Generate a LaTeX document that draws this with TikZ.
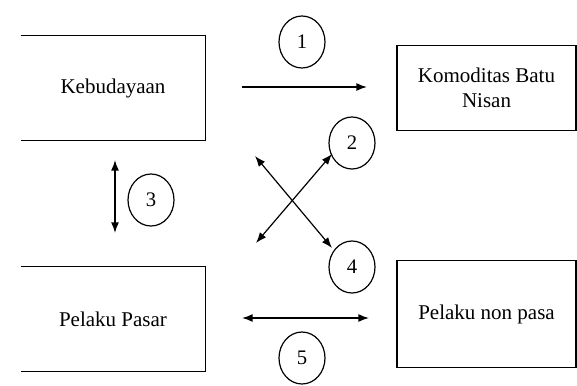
\documentclass[tikz,border=0pt]{standalone}
\usepackage{fontspec}
\setmainfont{Liberation Serif}
\usetikzlibrary{arrows.meta,shapes.geometric}

\tikzset{every picture/.style={line width=0.75pt}}
\tikzset{
	boxtext/.style={font=\fontsize{15.75}{19}\selectfont, align=center},
	boxline/.style={line width=1.3pt},
	numcirc/.style={draw, ellipse, line width=0.9pt, minimum width=34.5pt, minimum height=39pt, inner sep=0pt, font=\fontsize{15.5}{18}\selectfont},
	flow/.style={line width=1.1pt, -{Latex[length=8pt,width=6pt]}},
	twoway/.style={line width=1.1pt, {Latex[length=8pt,width=6pt]}-{Latex[length=8pt,width=6pt]}}}

\begin{document}
\begin{tikzpicture}[x=0.75pt,y=0.75pt,yscale=-1,xscale=1]
	\useasboundingbox (0,0) rectangle (577,385);

	%Shape: Rectangle (open on the left) [Kebudayaan]
	\node[boxtext, minimum width=138pt, minimum height=78pt] (keb) at (113,88) {Kebudayaan};
	\draw[boxline] (keb.north west) -- (keb.north east) -- (keb.south east) -- (keb.south west);
	%Shape: Rectangle [Komoditas Batu Nisan]
	\node[boxtext, minimum width=134pt, minimum height=63pt] (kom) at (486.5,88) {Komoditas Batu\\Nisan};
	\draw[boxline] (kom.north west) rectangle (kom.south east);
	%Shape: Rectangle (open on the left) [Pelaku Pasar]
	\node[boxtext, minimum width=138pt, minimum height=78pt] (pas) at (113,319) {Pelaku Pasar};
	\draw[boxline] (pas.north west) -- (pas.north east) -- (pas.south east) -- (pas.south west);
	%Shape: Rectangle [Pelaku non pasa]
	\node[boxtext, minimum width=134pt, minimum height=79.5pt] (non) at (486.5,314) {Pelaku non pasa};
	\draw[boxline] (non.north west) rectangle (non.south east);

	% Circle Nodes
	\node[numcirc] (c1) at (302,42) {1};
	\node[numcirc] (c2) at (352,143) {2};
	\node[numcirc] (c3) at (151,200) {3};
	\node[numcirc] (c4) at (352,267) {4};
	\node[numcirc] (c5) at (302,358) {5};

	% Arrow ends
	\coordinate (a1s) at (242,87);
	\coordinate (a1e) at (367,87);
	\coordinate (a3s) at (115,160);
	\coordinate (a3e) at (115,233);
	\coordinate (a5s) at (242,318);
	\coordinate (a5e) at (369,318);
	\coordinate (xas) at (255,156);
	\coordinate (xae) at (332,248);
	\coordinate (xbs) at (256,243);
	\coordinate (xbe) at (332,154);

	%Straight Lines
	\draw[flow] (a1s) -- (a1e);
	\draw[twoway] (a3s) -- (a3e);
	\draw[twoway] (a5s) -- (a5e);
	\draw[twoway, line width=0.9pt] (xas) -- (xae);
	\draw[twoway, line width=0.9pt] (xbs) -- (xbe);

\end{tikzpicture}
\end{document}
